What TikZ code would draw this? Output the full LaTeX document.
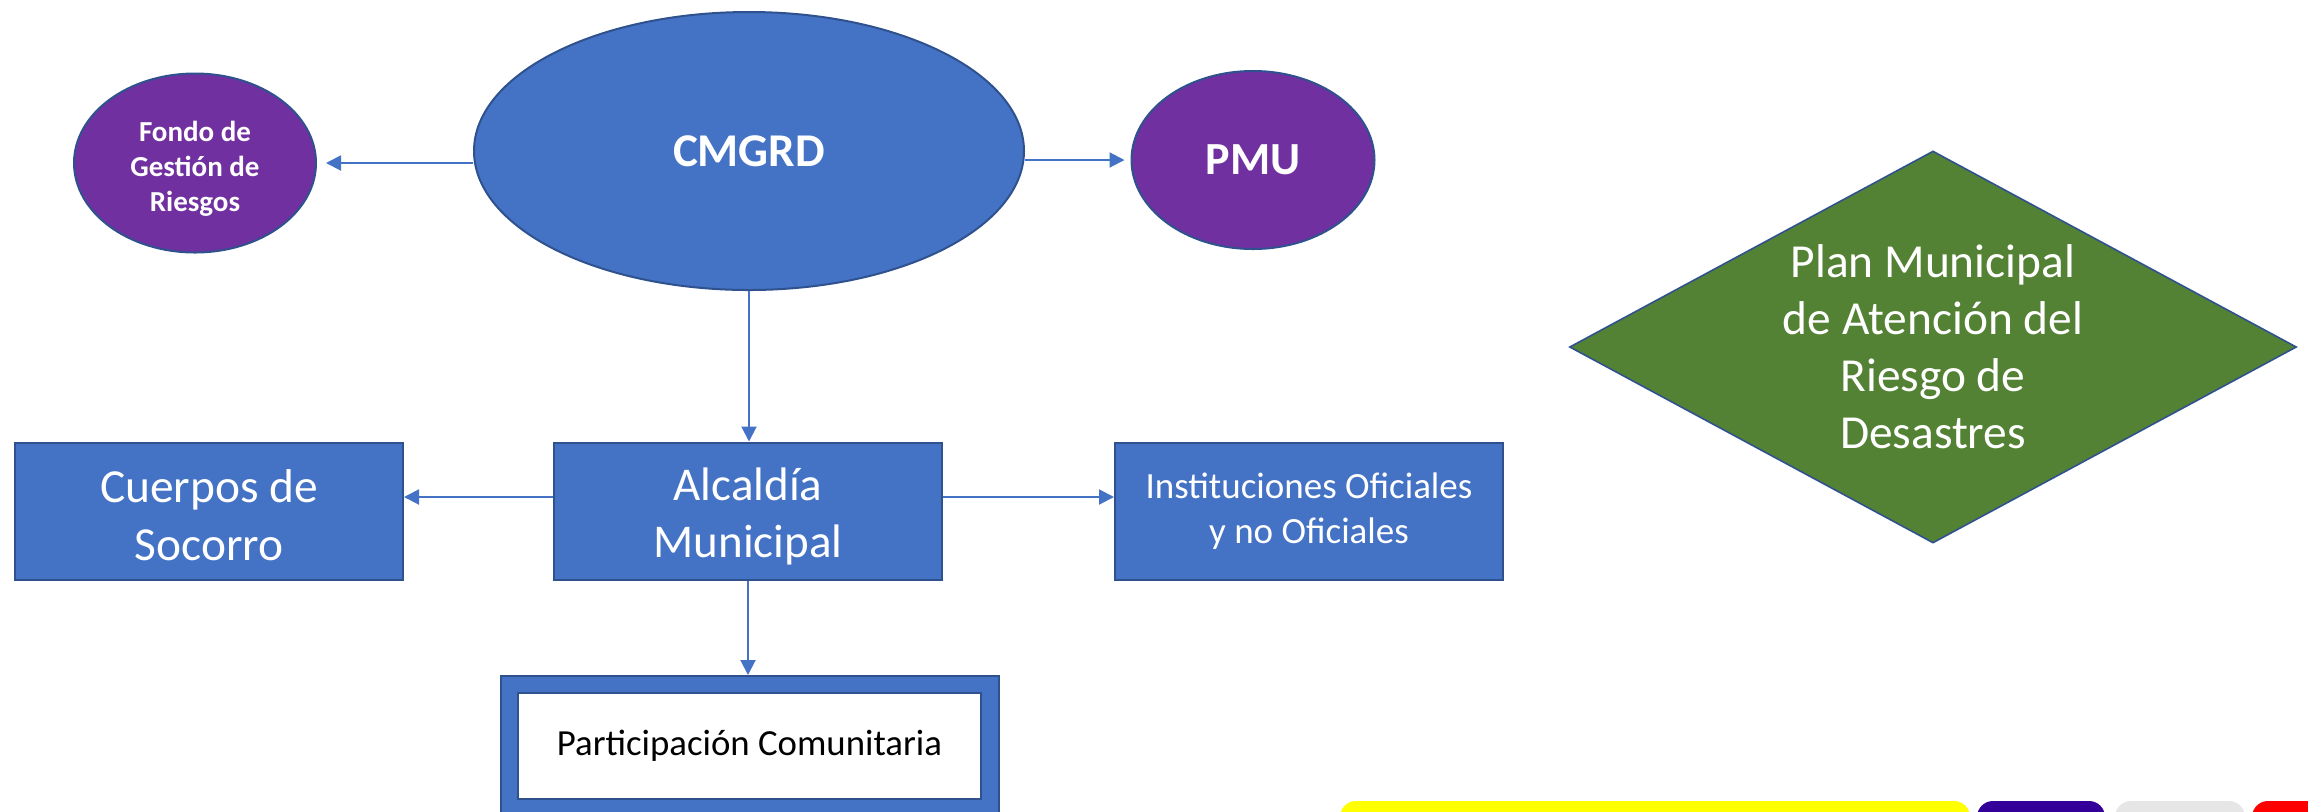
\documentclass[tikz,border=0pt]{standalone}
\usepackage{fontspec}
\setmainfont{Carlito}
\usetikzlibrary{arrows.meta,shapes.geometric}
\definecolor{boxblue}{HTML}{4472C4}
\definecolor{edgeblue}{HTML}{2F528F}
\definecolor{fondopurple}{HTML}{7030A0}
\definecolor{plangreen}{HTML}{548235}
\definecolor{baryellow}{HTML}{FFFF00}
\definecolor{barpurple}{HTML}{330099}
\definecolor{bargray}{HTML}{E6E6E6}
\definecolor{barred}{HTML}{FF0000}

\begin{document}
\begin{tikzpicture}[x=0.5pt,y=-0.5pt,>={Triangle[length=7.5pt,width=7.5pt]},
  oval/.style={ellipse, draw=edgeblue, line width=1pt, text=white, align=center, inner sep=0pt},
  bluebox/.style={rectangle, draw=edgeblue, line width=1pt, fill=boxblue, text=white, align=center,
    minimum width=194pt, minimum height=68.5pt, inner sep=0pt},
  link/.style={->, draw=boxblue, line width=1pt}]
  \useasboundingbox (0,0) rectangle (2308,811);

  % ovals on top
  \node[oval, fill=boxblue, minimum width=275pt, minimum height=139pt,
    font=\fontsize{23.5}{29}\selectfont\bfseries] (cmgrd) at (749,151) {CMGRD};
  \node[oval, fill=fondopurple, minimum width=121pt, minimum height=89.5pt,
    font=\fontsize{14.5}{17.5}\selectfont\bfseries] (fondo) at (195,163)
    {\rule{0pt}{15.5pt}Fondo de\\Gesti\'on de\\Riesgos};
  \node[oval, fill=fondopurple, minimum width=121.5pt, minimum height=89pt,
    font=\fontsize{23}{28}\selectfont\bfseries] (pmu) at (1253,160) {PMU};

  % boxes in the middle row
  \node[bluebox, font=\fontsize{23.5}{28.5}\selectfont] (alcaldia) at (748,511)
    {\rule{0pt}{22pt}Alcald\'ia\\Municipal};
  \node[bluebox, font=\fontsize{23.7}{29}\selectfont] (cuerpos) at (209,511)
    {\rule{0pt}{21pt}Cuerpos de\\Socorro};
  \node[bluebox, font=\fontsize{18.5}{22.5}\selectfont] (inst) at (1309,511)
    {Instituciones Oficiales\\y no Oficiales};

  % diamond
  \node[diamond, draw=edgeblue, line width=0.8pt, fill=plangreen, text=white, align=center,
    aspect=1.855, inner sep=0pt, minimum width=363.5pt, minimum height=196pt,
    font=\fontsize{23.7}{28.5}\selectfont] (plan) at (1933,347)
    {Plan Municipal\\de Atenci\'on del\\Riesgo de\\Desastres};

  % framed box at the bottom
  \node[rectangle, draw=edgeblue, line width=1pt, fill=boxblue, minimum width=249pt,
    minimum height=77pt] (partframe) at (750,753) {};
  \node[rectangle, draw=edgeblue, line width=1pt, fill=white, minimum width=231.5pt,
    minimum height=53pt, font=\fontsize{18.4}{22}\selectfont] (part) at (749.5,746)
    {Participaci\'on Comunitaria};

  % arrows
  \draw[link] (cmgrd.west |- fondo.east) -- ([xshift=4.5pt]fondo.east);
  \draw[link] (cmgrd.east |- pmu.west) -- ([xshift=-3pt]pmu.west);
  \draw[link] (cmgrd.south) -- (cmgrd.south |- alcaldia.north);
  \draw[link] ([yshift=7pt]alcaldia.west) -- ([yshift=7pt]cuerpos.east);
  \draw[link] ([yshift=7pt]alcaldia.east) -- ([yshift=7pt]inst.west);
  \draw[link] (alcaldia.south) -- (alcaldia.south |- partframe.north);

  % coloured bars cut by the lower edge
  \foreach \x/\w/\c in {1340/630/baryellow, 1977/128/barpurple, 2115/130/bargray, 2252/120/barred}
    \fill[\c, rounded corners=8pt] (\x,801) rectangle ++(\w,60);
\end{tikzpicture}
\end{document}
